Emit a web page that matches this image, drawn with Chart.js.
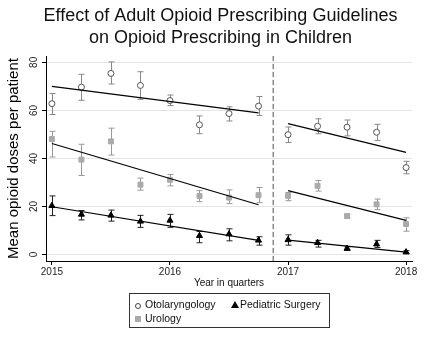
<!DOCTYPE html>
<html>
<head>
<meta charset="utf-8">
<script src="https://cdn.jsdelivr.net/npm/chart.js@4"></script>
<style>
  body { margin: 0; background: #fff; }
  #wrap { position: relative; width: 441px; height: 342px; }
  .legend { position: absolute; left: 129px; top: 293px; width: 199px; height: 33px; border: 1px solid #333; font: 10.5px "Liberation Sans", Arial, sans-serif; color: #111; }
  .legend span { position: absolute; white-space: nowrap; }
  .sym-circ { width: 4px; height: 4px; border: 1px solid #444; border-radius: 50%; }
  .sym-sq { width: 6px; height: 6px; background: #aaa; }
  .sym-tri { width: 0; height: 0; border-left: 4px solid transparent; border-right: 4px solid transparent; border-bottom: 7px solid #000; }
</style>
</head>
<body>
<div id="wrap">
  <canvas id="grafico" width="441" height="342"></canvas>
  <div class="legend">
    <span class="sym-circ" style="left:5px;top:9px"></span>
    <span style="left:15px;top:4px">Otolaryngology</span>
    <span class="sym-tri" style="left:101px;top:7px"></span>
    <span style="left:110px;top:4px">Pediatric Surgery</span>
    <span class="sym-sq" style="left:5px;top:22px"></span>
    <span style="left:15px;top:18px">Urology</span>
  </div>
</div>
<script>
"use strict";
//Dados
const quarters = [2015, 2015.25, 2015.5, 2015.75, 2016, 2016.25, 2016.5, 2016.75, 2017, 2017.25, 2017.5, 2017.75, 2018];
const yearTicks = [2015, 2016, 2017, 2018];
const doseTicks = [0, 20, 40, 60, 80];
const guideline = 2016.875;

const otoMean = [62.8, 69.7, 75.4, 70.4, 64.1, 54.0, 58.7, 61.8, 49.9, 53.4, 53.0, 50.9, 36.2];
const otoLow  = [58.3, 64.2, 71.0, 64.6, 62.0, 50.3, 55.6, 57.9, 46.6, 50.3, 49.4, 47.5, 33.6];
const otoHigh = [67.0, 75.0, 80.2, 76.1, 66.4, 57.7, 61.5, 65.8, 53.1, 56.5, 56.0, 54.2, 38.8];

const uroMean = [48.1, 39.5, 47.1, 29.1, 31.1, 24.4, 23.7, 24.7, 24.4, 28.6, 16.0, 20.9, 12.7];
const uroLow  = [40.6, 32.9, 41.4, 26.8, 28.6, 22.0, 21.2, 21.6, 22.4, 26.4, 15.2, 18.7, 9.7];
const uroHigh = [51.3, 45.9, 52.6, 31.8, 33.3, 26.6, 26.9, 27.9, 25.8, 30.8, 16.8, 23.1, 15.3];

const pedMean = [20.3, 16.7, 16.3, 13.8, 14.2, 7.8, 8.5, 5.9, 6.1, 4.9, 2.5, 4.3, 1.0];
const pedLow  = [16.2, 14.4, 13.9, 11.3, 11.3, 4.9, 5.7, 3.9, 3.9, 3.1, 1.8, 2.9, 0.4];
const pedHigh = [24.4, 18.3, 18.5, 16.3, 16.7, 9.6, 10.7, 7.4, 8.2, 5.9, 3.2, 5.9, 1.6];

//Tendencias (inicio, fim)
const trendPreX = [2015, 2016.75];
const trendPostX = [2017, 2018];
const otoTrendPre = [70.0, 59.0];
const otoTrendPost = [54.5, 42.5];
const uroTrendPre = [46.2, 20.7];
const uroTrendPost = [26.6, 14.2];
const pedTrendPre = [19.9, 5.9];
const pedTrendPost = [6.0, 1.0];

const fonte = '"Liberation Sans", Arial, sans-serif';
const xMin = 2014.95, xMax = 2018.05, yMin = -2.7, yMax = 82.6;

const pontos = (xs, ys) => xs.map((x, i) => ({ x: x, y: ys[i] }));

const linha = (xs, ys) => ({
  type: 'line',
  data: pontos(xs, ys),
  borderColor: '#000',
  borderWidth: 1.2,
  pointRadius: 0,
  fill: false
});

const serie = (ys, low, high, estilo, cor, borda, raio, corErro) => ({
  type: 'scatter',
  data: pontos(quarters, ys),
  low: low,
  high: high,
  errColor: corErro,
  pointStyle: estilo,
  backgroundColor: cor,
  borderColor: borda,
  borderWidth: 1,
  pointRadius: raio
});

//Barras de erro
const errorBars = {
  id: 'errorBars',
  beforeDatasetsDraw(chart) {
    const ctx = chart.ctx;
    const xs = chart.scales.x, ys = chart.scales.y;
    chart.data.datasets.forEach(ds => {
      if (!ds.low) return;
      ctx.save();
      ctx.strokeStyle = ds.errColor;
      ctx.lineWidth = 1;
      ds.data.forEach((p, i) => {
        const px = Math.round(xs.getPixelForValue(p.x)) + 0.5;
        const y1 = ys.getPixelForValue(ds.low[i]);
        const y2 = ys.getPixelForValue(ds.high[i]);
        ctx.beginPath();
        ctx.moveTo(px, y1); ctx.lineTo(px, y2);
        ctx.moveTo(px - 3, y1); ctx.lineTo(px + 3, y1);
        ctx.moveTo(px - 3, y2); ctx.lineTo(px + 3, y2);
        ctx.stroke();
      });
      ctx.restore();
    });
  }
};

//Rotulos do eixo y (rotacionados)
const yLabels = {
  id: 'yLabels',
  afterDraw(chart) {
    const ctx = chart.ctx;
    const ys = chart.scales.y;
    ctx.save();
    ctx.font = '10px ' + fonte;
    ctx.fillStyle = '#222';
    ctx.textAlign = 'center';
    ctx.textBaseline = 'middle';
    doseTicks.forEach(v => {
      ctx.save();
      ctx.translate(ys.left + 34.5, ys.getPixelForValue(v));
      ctx.rotate(-Math.PI / 2);
      ctx.fillText(String(v), 0, 0);
      ctx.restore();
    });
    ctx.restore();
  }
};

const fundo = {
  id: 'fundo',
  beforeDraw(chart) {
    const ctx = chart.ctx;
    ctx.save();
    ctx.fillStyle = '#fff';
    ctx.fillRect(0, 0, chart.width, chart.height);
    ctx.restore();
  }
};

let graficoCtx = document.getElementById('grafico');

let chart = new Chart(graficoCtx, {
  data: {
    datasets: [
      {
        type: 'line',
        data: [{ x: guideline, y: yMin }, { x: guideline, y: yMax }],
        borderColor: '#888',
        borderWidth: 1.5,
        borderDash: [5, 3],
        pointRadius: 0
      },
      linha(trendPreX, otoTrendPre),
      linha(trendPostX, otoTrendPost),
      linha(trendPreX, uroTrendPre),
      linha(trendPostX, uroTrendPost),
      linha(trendPreX, pedTrendPre),
      linha(trendPostX, pedTrendPost),
      serie(otoMean, otoLow, otoHigh, 'circle', '#fff', '#555', 3, '#888'),
      serie(uroMean, uroLow, uroHigh, 'rect', '#aaa', '#aaa', 3.5, '#999'),
      serie(pedMean, pedLow, pedHigh, 'triangle', '#000', '#000', 3.5, '#222')
    ]
  },
  options: {
    responsive: false,
    animation: false,
    events: [],
    layout: {
      padding: { left: 0, right: 0, top: 0, bottom: 51 }
    },
    plugins: {
      legend: { display: false },
      tooltip: { enabled: false },
      title: {
        display: true,
        text: ['Effect of Adult Opioid Prescribing Guidelines', 'on Opioid Prescribing in Children'],
        color: '#111',
        font: { family: fonte, size: 18, weight: 'normal', lineHeight: 1.17 },
        padding: { top: 6, bottom: 8 }
      }
    },
    scales: {
      x: {
        type: 'linear',
        min: xMin,
        max: xMax,
        afterBuildTicks: (axis) => { axis.ticks = yearTicks.map(v => ({ value: v })); },
        afterFit: (axis) => { axis.height = 30; },
        grid: { drawOnChartArea: false, drawTicks: true, tickLength: 4, color: '#000' },
        border: { display: true, color: '#000', width: 1 },
        ticks: {
          color: '#222',
          padding: 1,
          maxRotation: 0,
          font: { family: fonte, size: 10 },
          callback: (v) => String(v)
        },
        title: {
          display: true,
          text: 'Year in quarters',
          color: '#111',
          font: { family: fonte, size: 10 },
          padding: { top: 0, bottom: 2 }
        }
      },
      y: {
        type: 'linear',
        min: yMin,
        max: yMax,
        afterBuildTicks: (axis) => { axis.ticks = doseTicks.map(v => ({ value: v })); },
        afterFit: (axis) => { axis.width = 46; },
        grid: { color: '#e4e4e4', lineWidth: 1, drawTicks: true, tickLength: 4, tickColor: '#000' },
        border: { display: true, color: '#000', width: 1 },
        ticks: { display: false },
        title: {
          display: true,
          text: 'Mean opioid doses per patient',
          color: '#000',
          font: { family: fonte, size: 15 },
          padding: { top: 5, bottom: 0 }
        }
      },
      //eixo vazio so para a margem direita
      yDir: {
        type: 'linear',
        position: 'right',
        min: yMin,
        max: yMax,
        afterFit: (axis) => { axis.width = 29; },
        grid: { drawOnChartArea: false, drawTicks: false },
        border: { display: false },
        ticks: { display: false }
      }
    }
  },
  plugins: [fundo, errorBars, yLabels]
});
</script>
</body>
</html>
